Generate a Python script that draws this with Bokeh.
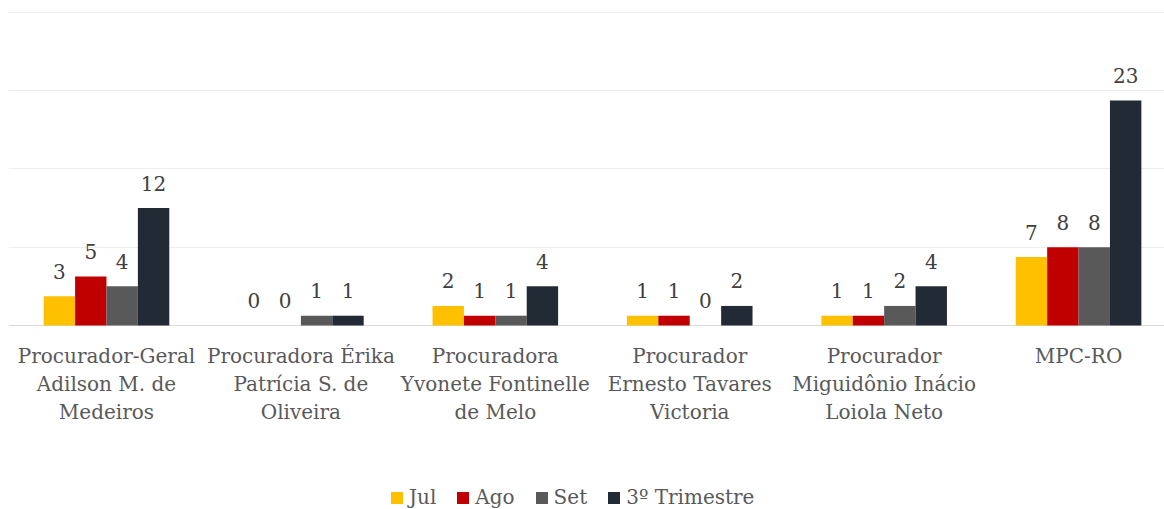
from bokeh.plotting import figure
from bokeh.models import ColumnDataSource, Range1d, FixedTicker, Legend, LegendItem, Grid
from bokeh.transform import dodge
from bokeh.core.properties import value
from bokeh.embed import file_html
from bokeh.resources import INLINE

categories = [
    "Procurador-Geral\nAdilson M. de\nMedeiros",
    "Procuradora Érika\nPatrícia S. de\nOliveira",
    "Procuradora\nYvonete Fontinelle\nde Melo",
    "Procurador\nErnesto Tavares\nVictoria",
    "Procurador\nMiguidônio Inácio\nLoiola Neto",
    "MPC-RO",
]
series_names = ["Jul", "Ago", "Set", "3º Trimestre"]
jul = [3, 0, 2, 1, 1, 7]
ago = [5, 0, 1, 1, 1, 8]
set_ = [4, 1, 1, 0, 2, 8]
trimestre = [12, 1, 4, 2, 4, 23]
colors = ["#FFC000", "#C00000", "#595959", "#222A35"]
grid_ticks = [8, 16, 24, 32]

FONT = "DejaVu Serif"
n = len(categories)
xs = [i + 0.5 for i in range(n)]
series = [jul, ago, set_, trimestre]
keys = ["jul", "ago", "set", "tri"]

data = {"x": xs, "base": [0] * n, "cat": categories}
for k, s in zip(keys, series):
    data[k] = s
    data[k + "_lbl"] = [str(v) for v in s]
source = ColumnDataSource(data)

p = figure(width=1164, height=509, output_backend="svg", toolbar_location=None,
           x_range=Range1d(-0.004, 5.942), y_range=Range1d(-18.81, 32.1),
           x_axis_location=None, y_axis_location=None,
           min_border_top=11, min_border_left=8, min_border_right=0, min_border_bottom=0)
p.outline_line_color = None
for g in p.grid:
    g.visible = False
p.add_layout(Grid(dimension=1, ticker=FixedTicker(ticks=grid_ticks),
                  grid_line_color="#eeeeee", grid_line_width=1))
p.add_layout(Grid(dimension=1, ticker=FixedTicker(ticks=[0]),
                  grid_line_color="#d9d9d9", grid_line_width=1))

# category labels under the baseline
p.text(x="x", y="base", text="cat", source=source, text_align="center",
       text_baseline="top", y_offset=18, text_line_height=1.18,
       text_font=value(FONT), text_font_size="20px", text_color="#595959")

bw = 0.1615
offsets = [-1.5 * bw, -0.5 * bw, 0.5 * bw, 1.5 * bw]
items = []
for k, name, col, off in zip(keys, series_names, colors, offsets):
    r = p.vbar(x=dodge("x", off), top=k, width=bw, source=source,
               fill_color=col, line_color=None)
    p.text(x=dodge("x", off), y=k, text=k + "_lbl", source=source,
           text_align="center", text_baseline="alphabetic", y_offset=-25,
           text_font=value(FONT), text_font_size="20px", text_color="#404040")
    items.append(LegendItem(label=name, renderers=[r]))

legend = Legend(items=items, orientation="horizontal", location=(381, 0),
                label_text_font=FONT, label_text_font_size="20px",
                label_text_color="#595959", glyph_width=15, glyph_height=15,
                label_standoff=5, spacing=19, padding=0, margin=0,
                label_height=20, border_line_color=None, background_fill_alpha=0)
p.add_layout(legend)

open("out.html", "w").write(file_html(p, INLINE))
